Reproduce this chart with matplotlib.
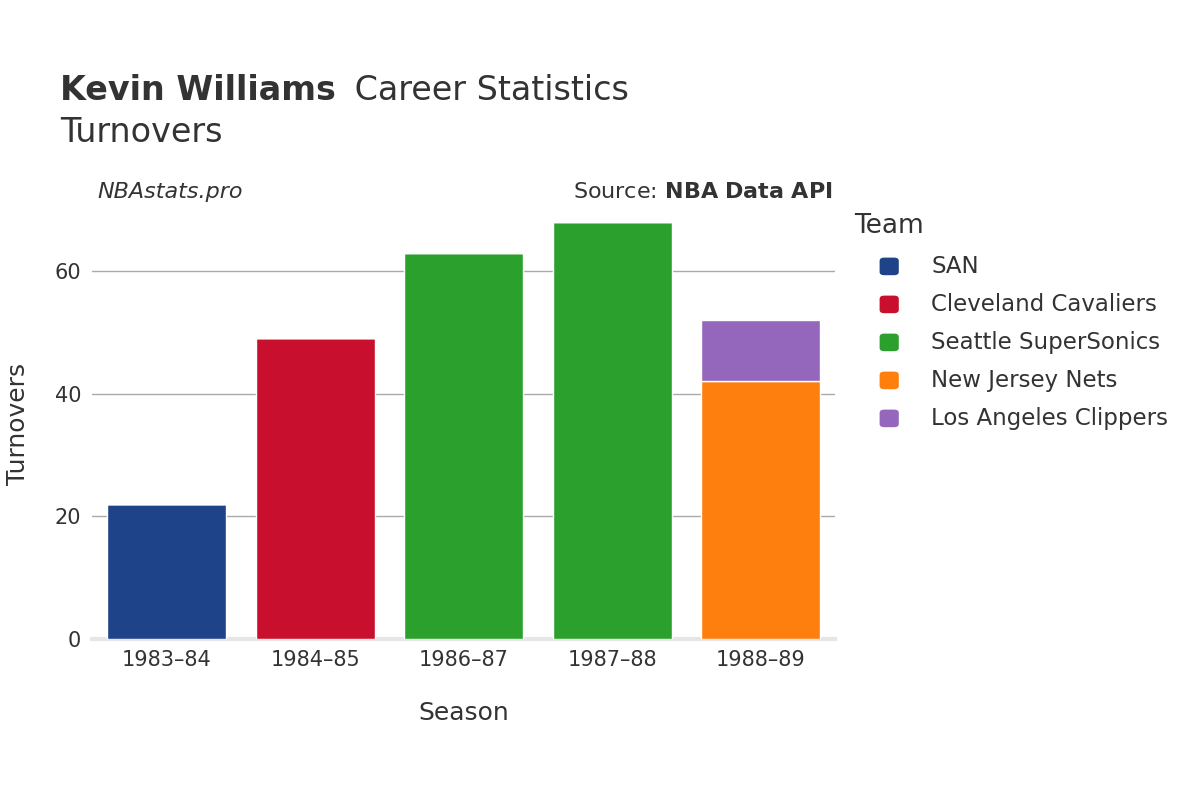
import matplotlib
matplotlib.use("Agg")
import matplotlib.pyplot as plt
from matplotlib.patches import FancyBboxPatch

seasons = ["1983–84", "1984–85", "1986–87", "1987–88", "1988–89"]
teams = ["SAN", "Cleveland Cavaliers", "Seattle SuperSonics", "New Jersey Nets", "Los Angeles Clippers"]
colors = ["#1f4388", "#c8102e", "#2ca02c", "#ff7f0e", "#9467bd"]
# values per team per season
values = {
    "SAN": [22, 0, 0, 0, 0],
    "Cleveland Cavaliers": [0, 49, 0, 0, 0],
    "Seattle SuperSonics": [0, 0, 63, 68, 0],
    "New Jersey Nets": [0, 0, 0, 0, 42],
    "Los Angeles Clippers": [0, 0, 0, 0, 10],
}
yticks = [0, 20, 40, 60]

fig = plt.figure(figsize=(12, 8), dpi=100)
ax = fig.add_axes([0.077, 0.201, 0.619, 0.537])
x = range(len(seasons))
bottom = [0] * len(seasons)
for t, c in zip(teams, colors):
    v = values[t]
    ax.bar(x, v, width=0.8, bottom=bottom, color=c, edgecolor="white", linewidth=1, zorder=3)
    bottom = [b + a for b, a in zip(bottom, v)]

ax.set_xlim(-0.5, 4.5)
ax.set_ylim(0, 70)
ax.set_yticks(yticks)
ax.set_xticks(list(x))
ax.set_xticklabels(seasons)
ax.tick_params(length=0, labelsize=15, colors="#333333", pad=8)
ax.grid(axis="y", color="#aaaaaa", linewidth=1, zorder=0)
for s in ["top", "right", "left"]:
    ax.spines[s].set_visible(False)
ax.spines["bottom"].set_color("#e6e6e6")
ax.spines["bottom"].set_linewidth(3)
ax.set_xlabel("Season", fontsize=18, color="#333333", labelpad=22)
ax.set_ylabel("Turnovers", fontsize=18, color="#333333", labelpad=18)

fig.text(0.05, 0.875, "Kevin Williams", fontsize=24, fontweight="bold", color="#333333", va="baseline")
fig.text(0.05 + 0.237, 0.875, " Career Statistics", fontsize=24, color="#333333", va="baseline")
fig.text(0.05, 0.822, "Turnovers", fontsize=24, color="#333333", va="baseline")
fig.text(0.081, 0.76, "NBAstats.pro", fontsize=16, style="italic", color="#333333", va="center")
fig.text(0.694, 0.76, "Source: $\\bf{NBA\\ Data\\ API}$", fontsize=16, color="#333333", va="center", ha="right")

fig.text(0.712, 0.717, "Team", fontsize=19, color="#333333", va="center")
for i, (t, c) in enumerate(zip(teams, colors)):
    y = 0.667 - i * 0.0475
    fig.patches.append(FancyBboxPatch((0.733, y - 0.011), 0.016, 0.022, boxstyle="round,pad=0,rounding_size=0.004",
                                      transform=fig.transFigure, facecolor=c, edgecolor="none"))
    fig.text(0.776, y, t, fontsize=16.5, color="#333333", va="center")

fig.savefig("out.png")
